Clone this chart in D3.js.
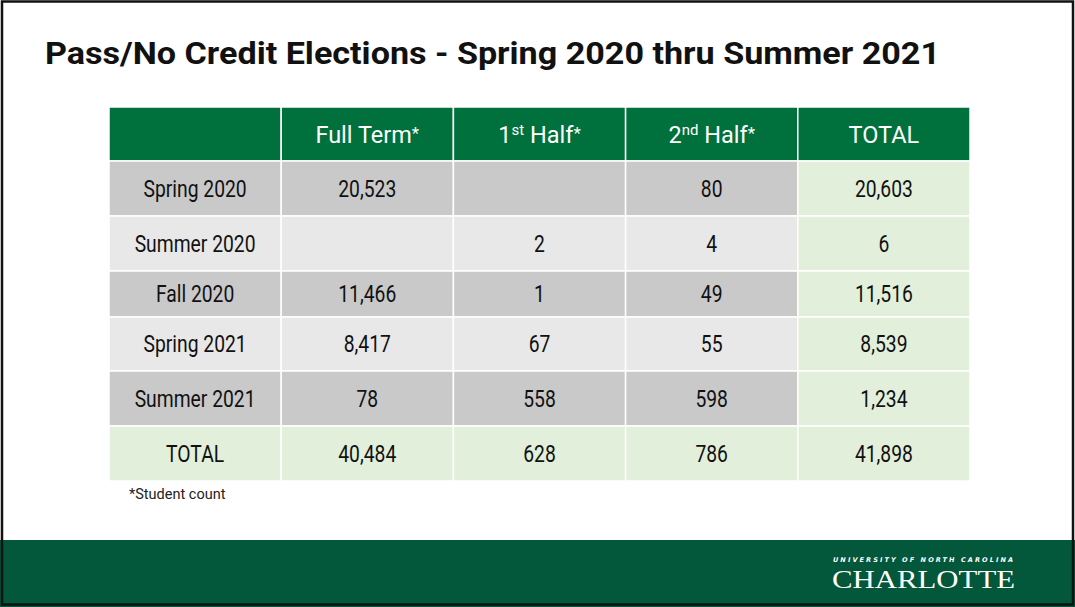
<!DOCTYPE html>
<html>
<head>
<meta charset="utf-8">
<script src="https://cdn.jsdelivr.net/npm/d3@7"></script>
<style>
  html, body { margin: 0; padding: 0; background: #fff; }
  svg { display: block; }
</style>
</head>
<body>
<div id="chart"></div>
<script>
// table content
const columns = [
  {main: "Full Term", sup: "", star: "*"},
  {main: "1", sup: "st", rest: " Half", star: "*"},
  {main: "2", sup: "nd", rest: " Half", star: "*"},
  {main: "TOTAL", sup: "", star: ""}
];
const terms = ["Spring 2020", "Summer 2020", "Fall 2020", "Spring 2021", "Summer 2021", "TOTAL"];
const fullTerm = [20523, null, 11466, 8417, 78, 40484];
const firstHalf = [null, 2, 1, 67, 558, 628];
const secondHalf = [80, 4, 49, 55, 598, 786];
const totals = [20603, 6, 11516, 8539, 1234, 41898];

// layout
const W = 1075, H = 607;
const tableLeft = 109, colW = 172.2;
const rowEdges = [107, 161, 216, 271, 317, 371, 426, 481];

const svg = d3.select('#chart').append('svg')
    .attr('width', W)
    .attr('height', H);

svg.append('rect')
  .attr('x', 0).attr('y', 0).attr('width', W).attr('height', H)
  .attr('fill', '#fff');

// footer band
svg.append('rect')
  .attr('x', 0).attr('y', 540).attr('width', W).attr('height', H - 540)
  .attr('fill', '#03573a');

// page border
svg.append('rect')
  .attr('x', 2).attr('y', 1.5).attr('width', W - 4).attr('height', H - 4)
  .attr('fill', 'none').attr('stroke', '#111').attr('stroke-width', 2.5);

svg.append('text')
  .attr('x', 45).attr('y', 64)
  .attr('font-family', 'Roboto, Inter, sans-serif')
  .attr('font-weight', 700)
  .attr('font-size', 31)
  .attr('textLength', 895)
  .attr('lengthAdjust', 'spacingAndGlyphs')
  .attr('fill', '#111')
  .text('Pass/No Credit Elections - Spring 2020 thru Summer 2021');

const x = d3.scaleLinear().domain([0, 5]).range([tableLeft, tableLeft + 5 * colW]);

const rows = terms.map((t, i) => [t, fullTerm[i], firstHalf[i], secondHalf[i], totals[i]]);
const fmt = d3.format(',');

const cellFill = (r, c) => {
  if (r === terms.length - 1 || c === 4) return '#e2efda';
  return r % 2 === 0 ? '#c9c9c9' : '#e8e8e8';
};

// header row
const head = svg.append('g');
head.selectAll('rect')
  .data(d3.range(5))
  .join('rect')
    .attr('x', d => x(d))
    .attr('y', rowEdges[0])
    .attr('width', colW)
    .attr('height', rowEdges[1] - rowEdges[0])
    .attr('fill', '#00703c')
    .attr('stroke', '#fff')
    .attr('stroke-width', 1.5);

const headText = head.selectAll('text')
  .data(columns)
  .join('text')
    .attr('x', (d, i) => x(i + 1) + colW / 2)
    .attr('y', (rowEdges[0] + rowEdges[1]) / 2 + 8.5)
    .attr('text-anchor', 'middle')
    .attr('font-family', 'Roboto, sans-serif')
    .attr('font-size', 23.5)
    .attr('fill', '#fff');

headText.each(function(d) {
  const t = d3.select(this);
  t.append('tspan').text(d.main);
  if (d.sup) {
    t.append('tspan').attr('font-size', 15).attr('dy', -8).text(d.sup);
    t.append('tspan').attr('dy', 8).text(d.rest);
  }
  if (d.star) t.append('tspan').attr('font-size', 17).attr('dy', -4).text(d.star);
});

// body
const body = svg.append('g');
rows.forEach((row, r) => {
  const y0 = rowEdges[r + 1], y1 = rowEdges[r + 2];
  const g = body.append('g');
  g.selectAll('rect')
    .data(row)
    .join('rect')
      .attr('x', (d, c) => x(c))
      .attr('y', y0)
      .attr('width', colW)
      .attr('height', y1 - y0)
      .attr('fill', (d, c) => cellFill(r, c))
      .attr('stroke', '#fff')
      .attr('stroke-width', 1.5);
  // condensed look: squeeze Roboto horizontally
  g.selectAll('text')
    .data(row)
    .join('text')
      .attr('transform', (d, c) => `translate(${x(c) + colW / 2},${(y0 + y1) / 2 + 8}) scale(0.84,1)`)
      .attr('text-anchor', 'middle')
      .attr('font-family', 'Roboto, sans-serif')
      .attr('font-size', 23)
      .attr('fill', '#111')
      .text((d, c) => d == null ? '' : (c === 0 ? d : fmt(d)));
});

svg.append('text')
  .attr('x', 129).attr('y', 499)
  .attr('font-family', 'Roboto, sans-serif')
  .attr('font-size', 14.5)
  .attr('fill', '#222')
  .text('*Student count');

// logo
svg.append('text')
  .attr('x', 833).attr('y', 562)
  .attr('font-family', '"DejaVu Sans", sans-serif')
  .attr('font-weight', 700)
  .attr('font-style', 'italic')
  .attr('font-size', 6.5)
  .attr('textLength', 180)
  .attr('lengthAdjust', 'spacing')
  .attr('fill', '#fff')
  .text('UNIVERSITY OF NORTH CAROLINA');

svg.append('text')
  .attr('x', 832).attr('y', 588)
  .attr('font-family', '"Liberation Serif", serif')
  .attr('font-size', 26)
  .attr('textLength', 183)
  .attr('lengthAdjust', 'spacingAndGlyphs')
  .attr('fill', '#fff')
  .text('CHARLOTTE');
</script>
</body>
</html>
